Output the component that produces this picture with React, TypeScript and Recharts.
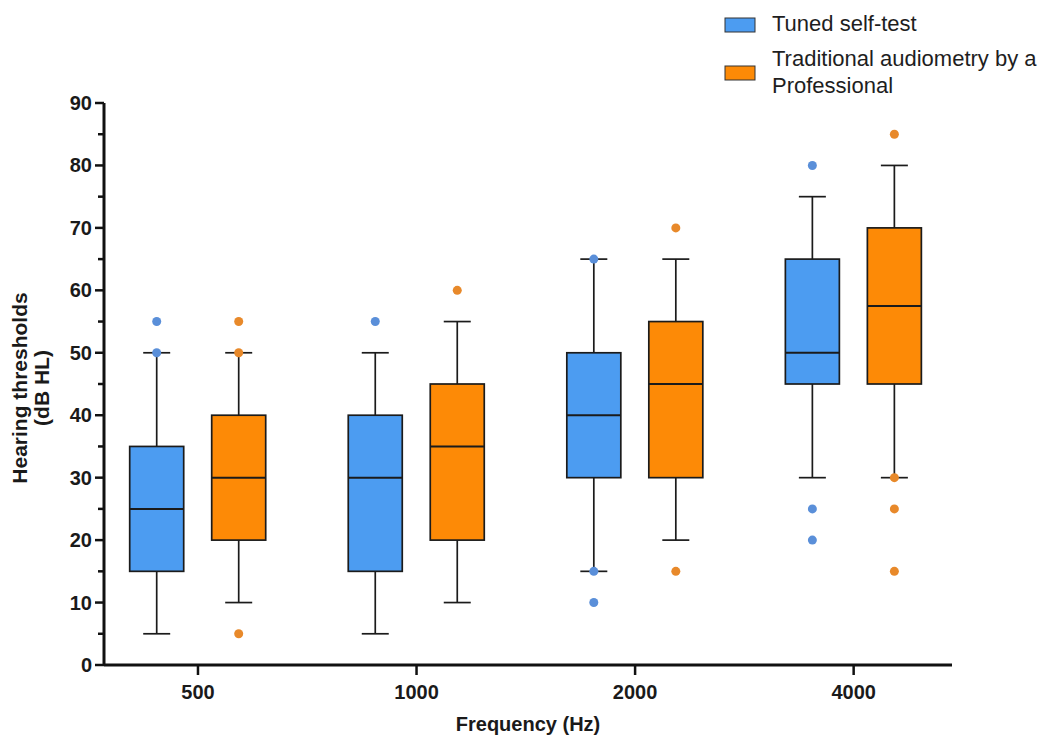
import React from "react"
import { Bar, ComposedChart, Legend, XAxis, YAxis } from "recharts"

const frequencies = ["500", "1000", "2000", "4000"]

// Tuned self-test
const selfMin = [5, 5, 15, 30]
const selfQ1 = [15, 15, 30, 45]
const selfMedian = [25, 30, 40, 50]
const selfQ3 = [35, 40, 50, 65]
const selfMax = [50, 50, 65, 75]
const selfOutliers = [[55, 50], [55], [65, 15, 10], [80, 25, 20]]

// Traditional audiometry by a professional
const proMin = [10, 10, 20, 30]
const proQ1 = [20, 20, 30, 45]
const proMedian = [30, 35, 45, 57.5]
const proQ3 = [40, 45, 55, 70]
const proMax = [50, 55, 65, 80]
const proOutliers = [[55, 50, 5], [60], [70, 15], [85, 30, 25, 15]]

const yTicks = [0, 5, 10, 15, 20, 25, 30, 35, 40, 45, 50, 55, 60, 65, 70, 75, 80, 85, 90]

const BLUE = "#4c9cf1"
const ORANGE = "#fd8a06"
const BLUE_DOT = "#5a8fd9"
const ORANGE_DOT = "#e8892a"
const FONT = "'Liberation Sans', Arial, sans-serif"

const data = frequencies.map((freq, i) => ({
  pos: i,
  freq,
  self: [selfQ1[i], selfQ3[i]],
  selfStats: { min: selfMin[i], median: selfMedian[i], max: selfMax[i], outliers: selfOutliers[i] },
  pro: [proQ1[i], proQ3[i]],
  proStats: { min: proMin[i], median: proMedian[i], max: proMax[i], outliers: proOutliers[i] },
}))

function BoxShape(props: any) {
  const { x, y, width, height, payload, statsKey, boxKey, fill, dotColor } = props
  if (!payload) return null
  const [q1, q3] = payload[boxKey]
  const stats = payload[statsKey]
  const top = Math.min(y, y + height)
  const h = Math.abs(height)
  const ratio = h / (q3 - q1)
  const toY = (v: number) => top + (q3 - v) * ratio
  const cx = x + width / 2
  const cap = width / 2
  const line = { stroke: "#1b1b1b", strokeWidth: 1.7 }
  return (
    <g>
      <line x1={cx} x2={cx} y1={toY(stats.max)} y2={top} {...line} />
      <line x1={cx - cap / 2} x2={cx + cap / 2} y1={toY(stats.max)} y2={toY(stats.max)} {...line} />
      <line x1={cx} x2={cx} y1={top + h} y2={toY(stats.min)} {...line} />
      <line x1={cx - cap / 2} x2={cx + cap / 2} y1={toY(stats.min)} y2={toY(stats.min)} {...line} />
      <rect x={x} y={top} width={width} height={h} fill={fill} stroke="#1b1b1b" strokeWidth={1.7} />
      <line x1={x} x2={x + width} y1={toY(stats.median)} y2={toY(stats.median)} stroke="#1b1b1b" strokeWidth={2} />
      {stats.outliers.map((v: number, k: number) => (
        <circle key={k} cx={cx} cy={toY(v)} r={4.5} fill={dotColor} />
      ))}
    </g>
  )
}

function YTick(props: any) {
  const { x, y, payload } = props
  const major = payload.value % 10 === 0
  return (
    <g>
      <line x1={x} x2={x - (major ? 9 : 6)} y1={y} y2={y} stroke="#111" strokeWidth={2.5} />
      {major && (
        <text x={x - 12} y={y} dy="0.35em" textAnchor="end" fontSize={20} fontWeight={700} fill="#1a1a1a" fontFamily={FONT}>
          {payload.value}
        </text>
      )}
    </g>
  )
}

function XTick(props: any) {
  const { x, y, payload } = props
  return (
    <g>
      <line x1={x} x2={x} y1={y} y2={y + 10} stroke="#111" strokeWidth={2.5} />
      <text x={x} y={y + 27} dy="0.35em" textAnchor="middle" fontSize={20} fontWeight={700} fill="#1a1a1a" fontFamily={FONT}>
        {frequencies[payload.value]}
      </text>
    </g>
  )
}

function YTitle(props: any) {
  const vb = props.viewBox || { y: 103, height: 562 }
  const cy = vb.y + vb.height / 2 + 4
  return (
    <g>
      <text x={0} y={0} transform={`translate(27, ${cy}) rotate(-90)`} textAnchor="middle" fontSize={21} fontWeight={700} fill="#1a1a1a" fontFamily={FONT}>
        Hearing thresholds
      </text>
      <text x={0} y={0} transform={`translate(49, ${cy}) rotate(-90)`} textAnchor="middle" fontSize={21} fontWeight={700} fill="#1a1a1a" fontFamily={FONT}>
        (dB HL)
      </text>
    </g>
  )
}

function LegendBox(props: any) {
  const { payload } = props
  if (!payload) return null
  const blue = payload.find((p: any) => p.dataKey === "self")
  const orange = payload.find((p: any) => p.dataKey === "pro")
  const txt = { fontSize: 22, fill: "#1e1e1e", fontFamily: FONT }
  return (
    <svg width={323} height={100}>
      <rect x={5} y={18} width={30} height={14} fill={blue?.color || BLUE} stroke="#333" strokeWidth={1} />
      <text x={52} y={23} dy="0.35em" {...txt}>{blue?.value}</text>
      <rect x={5} y={66} width={30} height={14} fill={orange?.color || ORANGE} stroke="#333" strokeWidth={1} />
      <text x={52} y={58} dy="0.35em" {...txt}>Traditional audiometry by a</text>
      <text x={52} y={85} dy="0.35em" {...txt}>Professional</text>
    </svg>
  )
}

export default function App() {
  return (
    <div style={{ position: "absolute", left: 0, top: 0, background: "#fff" }}>
      <ComposedChart
        width={1043}
        height={741}
        data={data}
        barGap={28}
        margin={{ top: 103, right: 91, bottom: 0, left: 0 }}
      >
        <XAxis
          dataKey="pos"
          type="number"
          domain={[-0.43, 3.45]}
          ticks={[0, 1, 2, 3]}
          allowDataOverflow
          tick={<XTick />}
          tickLine={false}
          tickSize={0}
          tickMargin={0}
          axisLine={{ stroke: "#111", strokeWidth: 3 }}
          height={76}
          label={{ value: "Frequency (Hz)", position: "insideBottom", offset: 10, fill: "#1a1a1a", fontSize: 20, fontWeight: 700, fontFamily: FONT }}
        />
        <YAxis
          type="number"
          domain={[0, 90]}
          ticks={yTicks}
          interval={0}
          width={104}
          tick={<YTick />}
          tickLine={false}
          tickSize={0}
          tickMargin={0}
          axisLine={{ stroke: "#111", strokeWidth: 3 }}
          label={(p: any) => <YTitle {...p} />}
        />
        <Legend
          layout="vertical"
          align="center"
          verticalAlign="middle"
          wrapperStyle={{ top: 0, left: 720, width: 323 }}
          content={<LegendBox />}
        />
        <Bar
          dataKey="self"
          name="Tuned self-test"
          fill={BLUE}
          barSize={54}
          isAnimationActive={false}
          shape={(p: any) => <BoxShape {...p} boxKey="self" statsKey="selfStats" fill={BLUE} dotColor={BLUE_DOT} />}
        />
        <Bar
          dataKey="pro"
          name="Traditional audiometry by a Professional"
          fill={ORANGE}
          barSize={54}
          isAnimationActive={false}
          shape={(p: any) => <BoxShape {...p} boxKey="pro" statsKey="proStats" fill={ORANGE} dotColor={ORANGE_DOT} />}
        />
      </ComposedChart>
    </div>
  )
}
